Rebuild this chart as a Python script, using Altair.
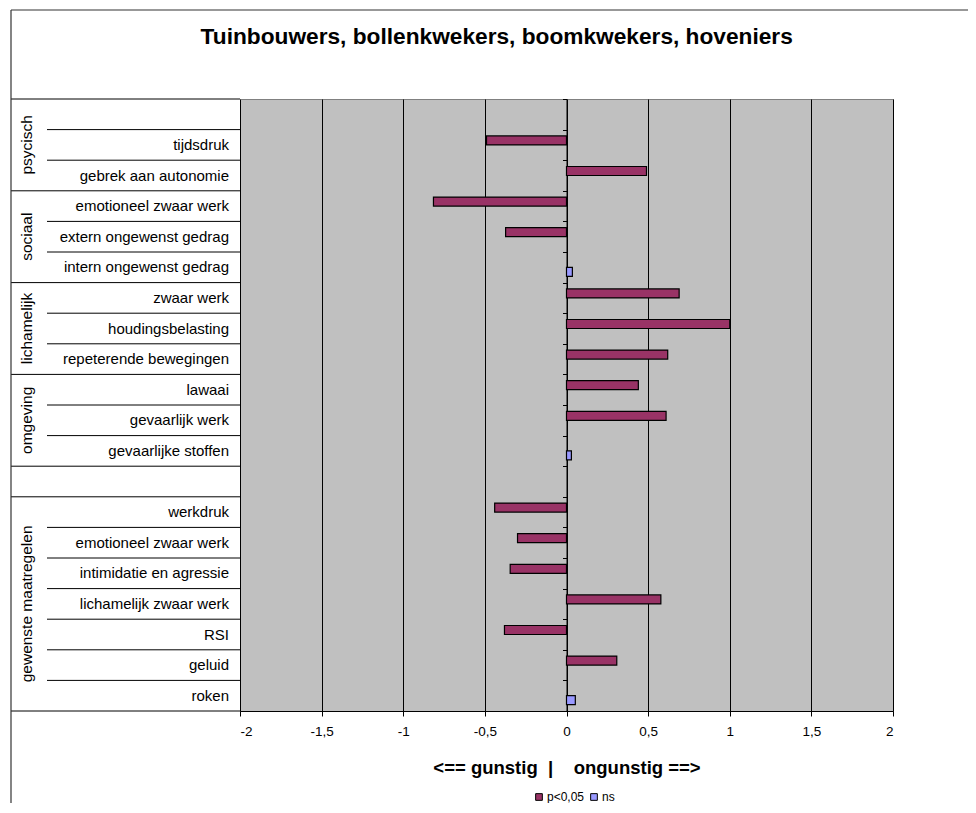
import altair as alt
import pandas as pd

FONT = "Liberation Sans"

title_text = "Tuinbouwers, bollenkwekers, boomkwekers, hoveniers"
labels = ["", "tijdsdruk", "gebrek aan autonomie", "emotioneel zwaar werk",
          "extern ongewenst gedrag", "intern ongewenst gedrag", "zwaar werk",
          "houdingsbelasting", "repeterende bewegingen", "lawaai", "gevaarlijk werk",
          "gevaarlijke stoffen", "", "werkdruk", "emotioneel zwaar werk",
          "intimidatie en agressie", "lichamelijk zwaar werk", "RSI", "geluid", "roken"]
groups = (["psycisch"] * 3 + ["sociaal"] * 3 + ["lichamelijk"] * 3 + ["omgeving"] * 3
          + [""] + ["gewenste maatregelen"] * 7)
values = [None, -0.49, 0.49, -0.815, -0.373, 0.036, 0.69, 1.0, 0.62, 0.44, 0.61, 0.03,
          None, -0.44, -0.30, -0.345, 0.578, -0.38, 0.308, 0.054]
significance = [None, "p<0,05", "p<0,05", "p<0,05", "p<0,05", "ns", "p<0,05", "p<0,05",
                "p<0,05", "p<0,05", "p<0,05", "ns", None, "p<0,05", "p<0,05", "p<0,05",
                "p<0,05", "p<0,05", "p<0,05", "ns"]
series = ["p<0,05", "ns"]
colors = ["#993366", "#9999FF"]
x_ticks = [-2, -1.5, -1, -0.5, 0, 0.5, 1, 1.5, 2]
x_title = "<== gunstig \u00a0|\u00a0\u00a0\u00a0 ongunstig ==>"

ids = [f"r{i:02d}" for i in range(len(labels))]
rows = pd.DataFrame({"id": ids, "label": labels, "group": groups,
                     "value": values, "sig": significance})

# separator lines of the label table
inner_sep, outer_sep = [], []
for i, g in enumerate(groups):
    if i > 0 and groups[i - 1] == g:
        inner_sep.append(ids[i])
    else:
        outer_sep.append(ids[i])
inner_df = pd.DataFrame({"id": inner_sep})
outer_df = pd.DataFrame({"id": outer_sep})
last_df = pd.DataFrame({"id": [ids[-1]]})

# group labels anchored on the middle row of each group
grp_rows = []
for g in dict.fromkeys(groups):
    if not g:
        continue
    members = [ids[i] for i, gg in enumerate(groups) if gg == g]
    grp_rows.append({"id": members[len(members) // 2], "group": g})
grp_df = pd.DataFrame(grp_rows)

W, H = 653, 612

yscale = alt.Scale(domain=ids, paddingInner=0, paddingOuter=0)
yaxis = alt.Axis(orient="left", offset=-W / 2, labels=False, title=None, domain=True,
                 domainColor="black", domainWidth=1, ticks=True, tickBand="extent",
                 tickSize=4, tickColor="black", grid=False)

xaxis = alt.Axis(values=x_ticks, labelExpr="replace(toString(datum.value), '.', ',')",
                 grid=True, gridColor="black", gridWidth=1, gridOpacity=1,
                 domain=True, domainColor="black", domainWidth=1,
                 ticks=True, tickColor="black", tickSize=5,
                 labelFont=FONT, labelFontSize=13.5, labelColor="black", labelPadding=8,
                 title=x_title, titleFont=FONT, titleFontSize=18.5, titleFontWeight="bold",
                 titleColor="black", titlePadding=21)

bars = alt.Chart(rows).transform_filter("isValid(datum.value)").mark_bar(
    stroke="black", strokeWidth=1.2
).encode(
    x=alt.X("value:Q", scale=alt.Scale(domain=[-2, 2], nice=False, zero=False),
            axis=xaxis, stack=None),
    x2=alt.datum(0),
    y=alt.Y("id:N", scale=yscale, axis=yaxis),
    yOffset=alt.YOffset("sig:N", scale=alt.Scale(domain=series, paddingInner=0,
                                                   paddingOuter=0.7)),
    color=alt.Color("sig:N", scale=alt.Scale(domain=series, range=colors),
                    legend=alt.Legend(title=None, orient="none", legendX=293, legendY=692,
                                      direction="horizontal", symbolType="square",
                                      symbolSize=45, symbolStrokeColor="black",
                                      symbolStrokeWidth=1, symbolOpacity=1,
                                      labelFont=FONT, labelFontSize=12,
                                      labelColor="black", columnPadding=3,
                                      labelOffset=2)),
)

row_labels = alt.Chart(rows).mark_text(
    align="right", baseline="middle", font=FONT, fontSize=15, color="black"
).encode(
    x=alt.value(-11),
    y=alt.Y("id:N", scale=yscale, axis=yaxis),
    text="label:N",
)

group_labels = alt.Chart(grp_df).mark_text(
    align="center", baseline="middle", angle=270, font=FONT, fontSize=15.5, color="black"
).encode(
    x=alt.value(-213),
    y=alt.Y("id:N", scale=yscale, axis=yaxis),
    text="group:N",
)

inner_lines = alt.Chart(inner_df).mark_rule(color="black", strokeWidth=1).encode(
    y=alt.Y("id:N", scale=yscale, axis=yaxis, bandPosition=0),
    x=alt.value(-193), x2=alt.value(0),
)
outer_lines = alt.Chart(outer_df).mark_rule(color="black", strokeWidth=1).encode(
    y=alt.Y("id:N", scale=yscale, axis=yaxis, bandPosition=0),
    x=alt.value(-229), x2=alt.value(0),
)
bottom_line = alt.Chart(last_df).mark_rule(color="black", strokeWidth=1).encode(
    y=alt.Y("id:N", scale=yscale, axis=yaxis, bandPosition=1),
    x=alt.value(-229), x2=alt.value(0),
)

frame_df = pd.DataFrame({"k": [0]})
frame_left = alt.Chart(frame_df).mark_rule(color="#333333", strokeWidth=1.2).encode(
    x=alt.value(-229), y=alt.value(-89), y2=alt.value(720))
frame_top = alt.Chart(frame_df).mark_rule(color="#333333", strokeWidth=1.2).encode(
    y=alt.value(-89), x=alt.value(-229), x2=alt.value(740))

title = alt.Chart(pd.DataFrame({"t": [title_text]})).mark_text(
    align="center", baseline="alphabetic", font=FONT, fontSize=22.7, fontWeight="bold",
    color="black"
).encode(x=alt.value(256.7), y=alt.value(-55), text="t:N")

chart = alt.layer(
    bars, inner_lines, outer_lines, bottom_line, row_labels, group_labels,
    frame_left, frame_top, title
).properties(
    width=W, height=H,
    autosize=alt.AutoSizeParams(type="none"),
    padding={"left": 232, "top": 91, "right": 75, "bottom": 92},
).configure(
    font=FONT
).configure_view(
    fill="#C0C0C0", stroke="#808080", strokeWidth=1
)

chart.save("out.html", embed_options={"renderer": "svg", "actions": False})
